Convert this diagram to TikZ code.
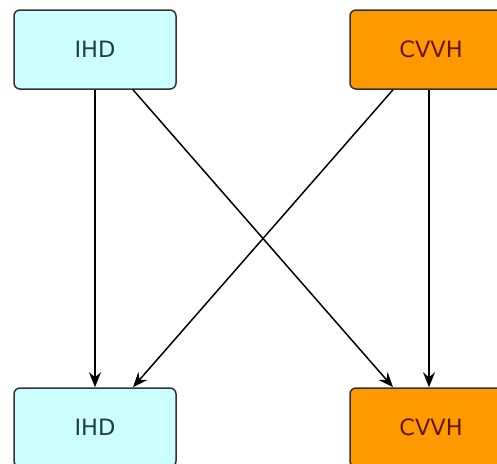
\documentclass[tikz,border=0pt]{standalone}
\usepackage{fontspec}
\setmainfont{DejaVu Sans}
\usetikzlibrary{arrows.meta, positioning}
\definecolor{cFillIhd}{RGB}{204,255,255}
\definecolor{cTextIhd}{RGB}{30,62,68}
\definecolor{cFillCvvh}{RGB}{255,153,0}
\definecolor{cTextCvvh}{RGB}{100,22,0}
\definecolor{cBorder}{RGB}{50,50,50}

\begin{document}
\begin{tikzpicture}[x=1pt, y=-1pt,
  every node/.style={font=\fontsize{22.5}{27}\selectfont},
  boxnode/.style={draw=cBorder, line width=1.5pt, rounded corners=6pt,
    minimum width=162pt, minimum height=79pt, inner sep=0pt},
  ihd/.style={boxnode, fill=cFillIhd, text=cTextIhd},
  cvvh/.style={boxnode, fill=cFillCvvh, text=cTextCvvh},
  link/.style={line width=1.5pt, -{Stealth[length=15pt, width=12pt, inset=5pt]}}]
  \useasboundingbox (0,0) rectangle (497,463);

  \node[ihd] (ihdTop) at (95,49.5) {IHD};
  \node[cvvh] (cvvhTop) at (431,49.5) {CVVH};
  \node[ihd] (ihdBot) at (95,427.5) {IHD};
  \node[cvvh] (cvvhBot) at (431,427.5) {CVVH};

  \draw[link] (ihdTop.south) -- (ihdBot.north);
  \draw[link] ([xshift=38pt]ihdTop.south) -- ([xshift=-38pt]cvvhBot.north);
  \draw[link] ([xshift=-38pt]cvvhTop.south) -- ([xshift=38pt]ihdBot.north);
  \draw[link] ([xshift=-2pt]cvvhTop.south) -- ([xshift=-2pt]cvvhBot.north);
\end{tikzpicture}
\end{document}
